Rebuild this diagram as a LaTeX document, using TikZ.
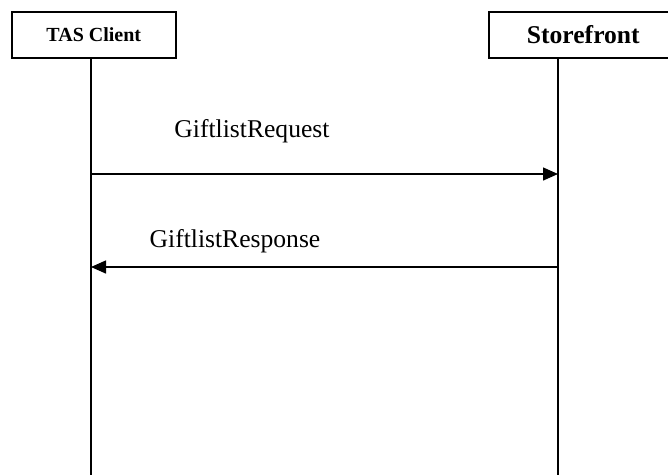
\documentclass[tikz,border=0pt]{standalone}
\usepackage{fontspec}
\setmainfont{Liberation Serif}
\usetikzlibrary{arrows.meta}
\begin{document}
\begin{tikzpicture}[x=1pt,y=-1pt,
  actor/.style={draw,line width=1.6pt,inner sep=0pt,anchor=north west,font=\bfseries},
  life/.style={line width=1.4pt},
  msg/.style={line width=1.4pt,-{Triangle[length=15pt,width=13pt]}},
  lbl/.style={font=\fontsize{25.6}{30}\selectfont,anchor=base}]
\useasboundingbox (0,0) rectangle (668,475);
\node[actor,minimum width=164pt,minimum height=46pt,font=\bfseries\fontsize{20}{24}\selectfont] (tas) at (11,11) {TAS Client};
\node[actor,minimum width=189pt,minimum height=46pt,font=\bfseries\fontsize{25.6}{30}\selectfont] (sf) at (488,11) {Storefront};
\coordinate (tasend) at (91,475);
\coordinate (sfend) at (558,475);
\draw[life] (tas.south -| tasend) -- (tasend);
\draw[life] (sf.south -| sfend) -- (sfend);
\coordinate (a1s) at (91,174);
\coordinate (a1e) at (558,174);
\coordinate (a2s) at (558,267);
\coordinate (a2e) at (91,267);
\draw[msg] (a1s) -- (a1e);
\draw[msg] (a2s) -- (a2e);
\node[lbl] (l1) at (252,137) {GiftlistRequest};
\node[lbl] (l2) at (235,247) {GiftlistResponse};
\end{tikzpicture}
\end{document}
